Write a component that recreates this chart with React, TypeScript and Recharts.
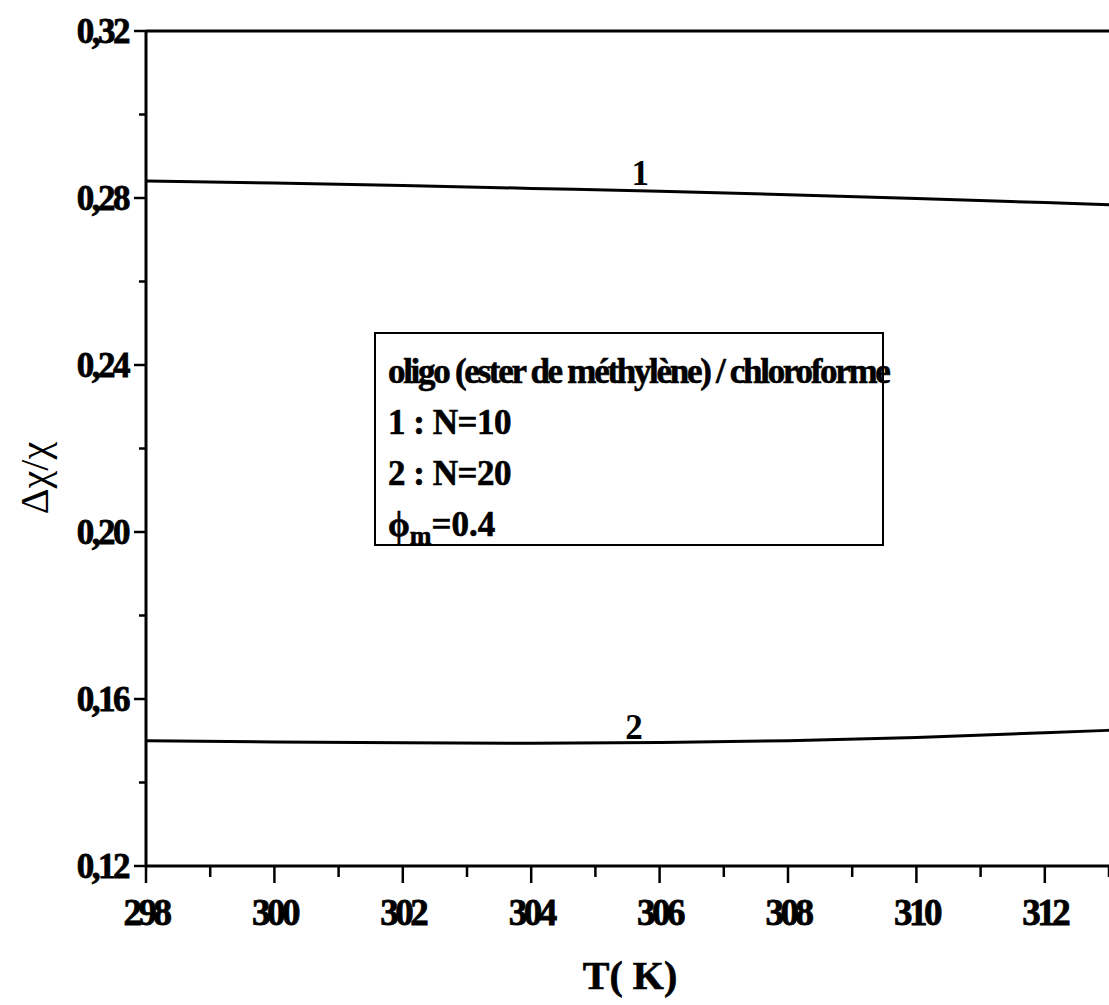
import { LineChart, Line, XAxis, YAxis, ReferenceLine, ReferenceDot, Label } from "recharts";

const temps = [298, 300, 302, 304, 306, 308, 310, 312, 313];
const n10 = [0.2841, 0.2836, 0.283, 0.2823, 0.2816, 0.2808, 0.2799, 0.2789, 0.2784];
const n20 = [0.15, 0.1497, 0.1495, 0.1494, 0.1496, 0.15, 0.1508, 0.1519, 0.1525];

const xMajor = [298, 300, 302, 304, 306, 308, 310, 312];
const xMinor = [299, 301, 303, 305, 307, 309, 311, 313];
const yMajor = [0.12, 0.16, 0.2, 0.24, 0.28, 0.32];
const yMinor = [0.14, 0.18, 0.22, 0.26, 0.3];

const curveLabels = [
  { text: "1", T: 305.7, v: 0.286 },
  { text: "2", T: 305.6, v: 0.1533 },
];

const legendLines = ["oligo (ester de méthylène) / chloroforme", "1 : N=10", "2 : N=20"];

const data = temps.map((T, i) => ({ T, n10: n10[i], n20: n20[i] }));

const FONT = "'Liberation Serif', 'Times New Roman', serif";

const isIn = (v: number, list: number[]) => list.some((m) => Math.abs(m - v) < 1e-6);

function YTick({ x, y, payload }: any) {
  const major = isIn(payload.value, yMajor);
  return (
    <g>
      <line x1={x - (major ? 12 : 7)} x2={x} y1={y} y2={y} stroke="#000" strokeWidth={2.5} />
      {major && (
        <text
          x={x - 18}
          y={y}
          textAnchor="end"
          dominantBaseline="central"
          fontFamily={FONT}
          fontWeight="bold"
          fontSize={35}
          letterSpacing={-2.5}
          fill="#000"
          stroke="#000"
          strokeWidth={0.8}
        >
          {payload.value.toFixed(2).replace(".", ",")}
        </text>
      )}
    </g>
  );
}

function XTick({ x, y, payload }: any) {
  const major = isIn(payload.value, xMajor);
  return (
    <g>
      <line x1={x} x2={x} y1={y} y2={y + (major ? 17 : 11)} stroke="#000" strokeWidth={2.5} />
      {major && (
        <text
          x={x}
          y={y + 46}
          textAnchor="middle"
          dominantBaseline="central"
          fontFamily={FONT}
          fontWeight="bold"
          fontSize={37}
          letterSpacing={-3.5}
          fill="#000"
          stroke="#000"
          strokeWidth={0.8}
        >
          {payload.value}
        </text>
      )}
    </g>
  );
}

export default function App() {
  const xTicks = [...xMajor, ...xMinor].sort((a, b) => a - b);
  const yTicks = [...yMajor, ...yMinor].sort((a, b) => a - b);

  return (
    <div style={{ position: "absolute", left: 0, top: 0, width: 1109, height: 1005, background: "#fff" }}>
      <LineChart width={1109} height={1005} data={data} margin={{ top: 31, right: 0, bottom: 0, left: 0 }}>
        <XAxis
          dataKey="T"
          type="number"
          domain={[298, 313]}
          ticks={xTicks}
          interval={0}
          allowDataOverflow
          height={139}
          tickSize={0}
          tickMargin={0}
          tickLine={false}
          axisLine={{ stroke: "#000", strokeWidth: 3 }}
          tick={<XTick />}
        >
          <Label
            content={() => (
              <text
                x={630}
                y={975}
                textAnchor="middle"
                dominantBaseline="central"
                fontFamily={FONT}
                fontWeight="bold"
                fontSize={40}
                fill="#000"
                stroke="#000"
                strokeWidth={0.6}
              >
                T( K)
              </text>
            )}
          />
        </XAxis>
        <YAxis
          type="number"
          domain={[0.12, 0.32]}
          ticks={yTicks}
          interval={0}
          allowDataOverflow
          width={146}
          tickSize={0}
          tickMargin={0}
          tickLine={false}
          axisLine={{ stroke: "#000", strokeWidth: 3 }}
          tick={<YTick />}
        >
          <Label
            content={() => (
              <text
                x={34}
                y={478}
                textAnchor="middle"
                dominantBaseline="central"
                transform="rotate(-90 34 478)"
                fontFamily={FONT}
                fontSize={40}
                fill="#000"
              >
                Δχ/χ
              </text>
            )}
          />
        </YAxis>
        <ReferenceLine y={0.32} stroke="#000" strokeWidth={3} />
        <Line dataKey="n10" type="monotone" stroke="#000" strokeWidth={3} dot={false} isAnimationActive={false} />
        <Line dataKey="n20" type="monotone" stroke="#000" strokeWidth={3} dot={false} isAnimationActive={false} />
        {curveLabels.map((c) => (
          <ReferenceDot
            key={c.text}
            x={c.T}
            y={c.v}
            r={0}
            stroke="none"
            label={{
              value: c.text,
              position: "center",
              fontFamily: FONT,
              fontWeight: "bold",
              fontSize: 35,
              fill: "#000",
            }}
          />
        ))}
      </LineChart>
      <div
        style={{
          position: "absolute",
          left: 374,
          top: 332,
          width: 510,
          height: 214,
          border: "2px solid #000",
          boxSizing: "border-box",
          fontFamily: FONT,
          fontWeight: "bold",
          fontSize: 35,
          color: "#000",
          WebkitTextStroke: "0.6px #000",
          paddingLeft: 12,
          paddingTop: 12,
          lineHeight: "51px",
          whiteSpace: "nowrap",
        }}
      >
        {legendLines.map((t, i) => (
          <div key={t} style={{ letterSpacing: i === 0 ? -2.3 : -0.5 }}>
            {t}
          </div>
        ))}
        <div>
          ϕ<sub style={{ fontSize: 26 }}>m</sub>=0.4
        </div>
      </div>
    </div>
  );
}
